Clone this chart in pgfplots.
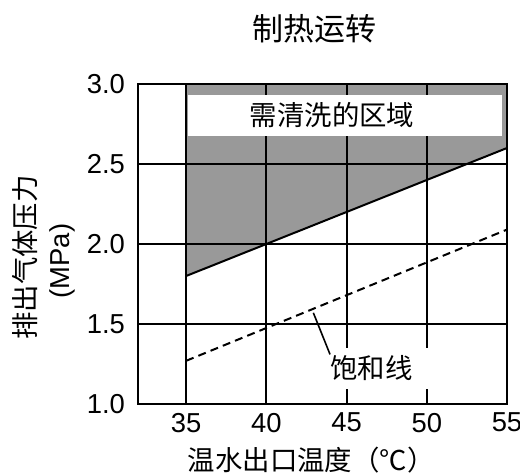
\documentclass[border=0pt]{standalone}
\usepackage{fontspec}
\setmainfont{Liberation Sans}
\newfontfamily\cjk{Noto Sans CJK SC}
\usepackage{pgfplots}
\pgfplotsset{compat=1.18}
\definecolor{zonegray}{HTML}{999999}

\begin{document}
\begin{tikzpicture}
\begin{axis}[
    set layers,
    scale only axis,
    width=184.5pt, height=160pt,
    xmin=32, xmax=55, ymin=1.0, ymax=3.0,
    xtick={35,40,45,50,55},
    ytick={1.0,1.5,2.0,2.5,3.0},
    yticklabel style={xshift=-3pt, /pgf/number format/fixed, /pgf/number format/fixed zerofill, /pgf/number format/precision=1},
    /pgf/number format/assume math mode=true,
    tick label style={font=\fontsize{13.7}{16}\selectfont, text=black},
    major tick length=0pt,
    xticklabel style={yshift=-1pt},
    grid=major,
    major grid style={black, line width=1pt},
    axis line style={black, line width=1pt},
    clip=false,
]
% grey zone above the solid line
\addplot[fill=zonegray, draw=none, on layer=axis background]
    coordinates {(35,1.8) (55,2.6) (55,3.0) (35,3.0)} -- cycle;
% limit line
\addplot[black, line width=1pt] coordinates {(35,1.8) (55,2.6)};
% saturation line
\addplot[black, line width=1pt, dash pattern=on 4pt off 2.6pt]
    coordinates {(35,1.27) (55,2.09)};

\fill[white] (axis cs:35.1,2.675) rectangle (axis cs:54.7,2.93);
\node[font=\cjk\fontsize{13.7}{16}\selectfont] at (axis cs:44.1,2.806) {需清洗的区域};

\fill[white] (axis cs:43.95,1.094) rectangle (axis cs:50.6,1.35);
\draw[black, line width=0.8pt] (axis cs:42.93,1.57) -- (axis cs:43.97,1.31);
\node[font=\cjk\fontsize{13.7}{16}\selectfont, anchor=west, inner sep=0pt]
    at (axis cs:43.97,1.225) {饱和线};

% title and axis labels
\node[font=\cjk\fontsize{15.5}{18}\selectfont] at (axis cs:43.0,3.344) {制热运转};
\node[font=\cjk\fontsize{13.7}{16}\selectfont] at (axis cs:42.79,0.65) {温水出口温度（℃）};
\node[font=\cjk\fontsize{13.7}{16}\selectfont, rotate=90] at (axis cs:24.94,1.916) {排出气体压力};
\node[font=\fontsize{13.7}{16}\selectfont, rotate=90] at (axis cs:27.31,1.894) {(MPa)};
\end{axis}
\pgfresetboundingbox
\path[use as bounding box] (-69pt,-34pt) rectangle (191pt,202pt);
\end{tikzpicture}
\end{document}
